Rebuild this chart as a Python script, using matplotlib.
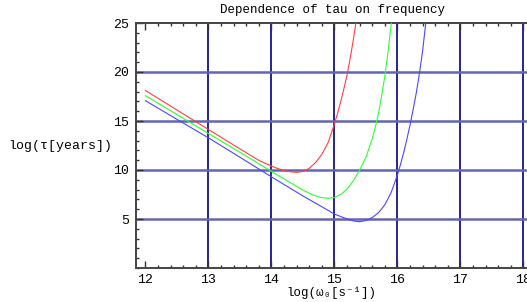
import matplotlib
matplotlib.use("Agg")
import matplotlib.pyplot as plt
from matplotlib.ticker import MultipleLocator, FixedLocator

# Data (log10 omega0 [s^-1] -> log10 tau [years])
red_x = [12.0, 12.5, 13.0, 13.5, 13.8, 14.0, 14.1, 14.2, 14.3, 14.4, 14.5, 14.6, 14.7, 14.8, 14.9, 15.0, 15.05, 15.1, 15.15, 15.2, 15.25, 15.3, 15.35, 15.38]
red_y = [18.11, 16.12, 14.13, 12.15, 10.98, 10.4, 10.15, 9.95, 9.82, 9.76, 9.85, 10.17, 10.75, 11.6, 12.8, 14.7, 15.8, 17.0, 18.3, 19.7, 21.4, 23.3, 25.4, 26.6]

green_x = [12.0, 12.5, 13.0, 13.5, 14.0, 14.3, 14.5, 14.6, 14.7, 14.8, 14.9, 15.0, 15.1, 15.2, 15.3, 15.4, 15.5, 15.6, 15.65, 15.7, 15.75, 15.8, 15.85, 15.9, 15.93]
green_y = [17.58, 15.65, 13.72, 11.8, 9.85, 8.7, 7.95, 7.62, 7.35, 7.17, 7.11, 7.2, 7.5, 8.05, 8.9, 10.0, 11.3, 13.2, 14.4, 15.8, 17.6, 19.6, 22.0, 24.8, 26.5]

blue_x = [12.0, 12.5, 13.0, 13.5, 14.0, 14.5, 14.8, 15.0, 15.2, 15.3, 15.4, 15.5, 15.6, 15.7, 15.8, 15.9, 16.0, 16.05, 16.1, 16.15, 16.2, 16.25, 16.3, 16.35, 16.4, 16.45, 16.48]
blue_y = [17.07, 15.17, 13.28, 11.3, 9.3, 7.35, 6.25, 5.5, 5.0, 4.8, 4.72, 4.85, 5.15, 5.65, 6.45, 7.7, 9.5, 10.6, 11.8, 13.15, 14.6, 16.2, 17.9, 19.9, 22.2, 25.0, 26.8]

x_ticks = [12, 13, 14, 15, 16, 17, 18]
y_ticks = [5, 10, 15, 20, 25]
v_grid = [13, 14, 15, 16, 17, 18]
h_grid = [5, 10, 15, 20]

mono = ["Liberation Mono", "DejaVu Sans Mono"]

fig = plt.figure(figsize=(5.27, 3.02), dpi=100)
ax = fig.add_axes([136/527, 34/302, 1 - 136/527, 245/302])
ax.set_xlim(11.85, 11.85 + 391/63)
ax.set_ylim(0, 25)

for v in v_grid:
    ax.axvline(v, color="#000080", lw=1.2, zorder=1)
for h in h_grid:
    ax.axhline(h, color="#6565b0", lw=1.8, zorder=1)

ax.plot(red_x, red_y, color="#ff4040", lw=0.8, zorder=3)
ax.plot(green_x, green_y, color="#30ff30", lw=0.8, zorder=3)
ax.plot(blue_x, blue_y, color="#4848ff", lw=0.8, zorder=3)

ax.xaxis.set_major_locator(FixedLocator(x_ticks))
ax.xaxis.set_minor_locator(MultipleLocator(0.2))
ax.yaxis.set_major_locator(FixedLocator(y_ticks))
ax.yaxis.set_minor_locator(MultipleLocator(1))
ax.tick_params(which="both", direction="in", top=True, right=False,
               color="#333333", width=1.0)
ax.tick_params(which="major", length=5)
ax.tick_params(which="minor", length=2.5)
ax.tick_params(axis="x", which="major", pad=4)
ax.tick_params(axis="y", which="major", pad=5)
for lab in ax.get_xticklabels() + ax.get_yticklabels():
    lab.set_fontfamily(mono)
    lab.set_fontsize(9.5)

for s in ["left", "bottom", "top"]:
    ax.spines[s].set_color("#444444")
    ax.spines[s].set_linewidth(1.4)
ax.spines["right"].set_visible(False)

fig.text(332/527, 1 - 10/302, "Dependence of tau on frequency", family=mono,
         fontsize=9, ha="center", va="center")
fig.text(331/527, 1 - 293/302, "log(ω₀[s⁻¹])", family=mono,
         fontsize=9, ha="center", va="center")
fig.text(60/527, 1 - 146/302, "log(τ[years])", family=mono,
         fontsize=9.5, ha="center", va="center")

fig.savefig("out.png", dpi=100)
